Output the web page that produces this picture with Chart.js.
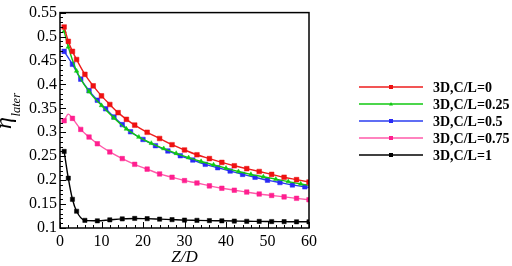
<!DOCTYPE html>
<html>
<head>
<meta charset="utf-8">
<script src="https://cdn.jsdelivr.net/npm/chart.js@4/dist/chart.umd.min.js"></script>
<style>
  body { margin: 0; background: #fff; }
  canvas { display: block; }
</style>
</head>
<body>
<canvas id="chart" width="512" height="266"></canvas>
<script>
// Z/D positions and eta values
const zRed = [1, 2, 3, 4, 6, 8, 10, 12, 14, 16, 18, 21, 24, 27, 30, 33, 36, 39, 42, 45, 48, 51, 54, 57, 60];
const etaRed = [0.520, 0.490, 0.469, 0.452, 0.421, 0.397, 0.376, 0.358, 0.341, 0.327, 0.315, 0.300, 0.287, 0.274, 0.263, 0.253, 0.245, 0.237, 0.230, 0.224, 0.218, 0.212, 0.206, 0.201, 0.196];

const zGreen = [1, 2, 4, 7, 10, 13, 16, 19, 22, 25, 28, 31, 34, 37, 40, 43, 46, 49, 52, 55, 58, 60];
const etaGreen = [0.511, 0.478, 0.428, 0.385, 0.356, 0.330, 0.307, 0.290, 0.277, 0.266, 0.256, 0.247, 0.239, 0.232, 0.225, 0.218, 0.212, 0.207, 0.202, 0.197, 0.192, 0.189];

const zBlue = [1, 3, 5, 7, 9, 11, 13, 15, 17, 20, 23, 26, 29, 32, 35, 38, 41, 44, 47, 50, 53, 56, 59, 60];
const etaBlue = [0.469, 0.442, 0.411, 0.387, 0.367, 0.349, 0.332, 0.316, 0.301, 0.285, 0.272, 0.261, 0.251, 0.242, 0.233, 0.226, 0.219, 0.212, 0.206, 0.200, 0.195, 0.190, 0.186, 0.185];

const zPink = [1, 2, 3, 5, 7, 9, 12, 15, 18, 21, 24, 27, 30, 33, 36, 39, 42, 45, 48, 51, 54, 57, 60];
const etaPink = [0.324, 0.338, 0.329, 0.306, 0.290, 0.276, 0.259, 0.245, 0.233, 0.223, 0.213, 0.206, 0.199, 0.194, 0.188, 0.183, 0.179, 0.175, 0.171, 0.168, 0.165, 0.162, 0.159];

const zBlack = [1, 2, 3, 4, 6, 9, 12, 15, 18, 21, 24, 27, 30, 33, 36, 39, 42, 45, 48, 51, 54, 57, 60];
const etaBlack = [0.260, 0.204, 0.160, 0.135, 0.116, 0.115, 0.117, 0.119, 0.120, 0.1195, 0.1185, 0.1175, 0.1165, 0.116, 0.1155, 0.115, 0.1145, 0.114, 0.1138, 0.1135, 0.1133, 0.113, 0.113];

// points drawn as line only, no marker
const pinkNoMark = [2];
const blueNoMark = [60];
const greenNoMark = [60];

const seriesLabels = ['3D,C/L=0', '3D,C/L=0.25', '3D,C/L=0.5', '3D,C/L=0.75', '3D,C/L=1'];

const serif = "'Liberation Serif', 'Times New Roman', serif";

function pts(zs, vals) {
    return zs.map((z, i) => ({ x: z, y: vals[i] }));
}

function makeSet(label, zs, vals, line, mark, style, r, noMark = []) {
    return {
        label,
        data: pts(zs, vals),
        borderColor: line,
        backgroundColor: mark,
        pointBorderColor: mark,
        pointBackgroundColor: mark,
        pointStyle: style,
        pointRadius: ctx => noMark.includes(ctx.raw && ctx.raw.x) ? 0 : r,
        pointBorderWidth: 0.5,
        borderWidth: 1.4,
        cubicInterpolationMode: 'monotone',
        fill: false
    };
}

const datasets = [
    makeSet(seriesLabels[0], zRed, etaRed, '#ee1c1c', '#ee1111', 'rect', 3.3),
    makeSet(seriesLabels[1], zGreen, etaGreen, '#11c811', '#11c811', 'triangle', 2.6, greenNoMark),
    makeSet(seriesLabels[2], zBlue, etaBlue, '#2a3cf0', '#2a2af5', 'rect', 3.2, blueNoMark),
    makeSet(seriesLabels[3], zPink, etaPink, '#ff5aaa', '#ff1f8f', 'rect', 3.2, pinkNoMark),
    makeSet(seriesLabels[4], zBlack, etaBlack, '#000000', '#000000', 'rect', 3.0)
];

const frame = {
    id: 'frame',
    afterDraw(chart) {
        const { ctx, chartArea: a, scales } = chart;
        ctx.save();
        ctx.strokeStyle = '#000';
        ctx.lineWidth = 1;
        // minor / major ticks pointing inward
        ctx.beginPath();
        for (let z = 0; z <= 60; z += 2) {
            const x = Math.round(scales.x.getPixelForValue(z)) + 0.5;
            const len = z % 10 === 0 ? 6 : 3;
            ctx.moveTo(x, a.bottom);
            ctx.lineTo(x, a.bottom - len);
        }
        for (let k = 10; k <= 55; k++) {
            const y = Math.round(scales.y.getPixelForValue(k / 100)) + 0.5;
            const len = k % 5 === 0 ? 6 : 3;
            ctx.moveTo(a.left, y);
            ctx.lineTo(a.left + len, y);
        }
        ctx.stroke();
        ctx.lineWidth = 1.5;
        ctx.strokeRect(a.left, a.top, a.right - a.left, a.bottom - a.top);

        // axis titles
        ctx.fillStyle = '#000';
        ctx.font = 'italic 17px ' + serif;
        ctx.textAlign = 'center';
        ctx.textBaseline = 'alphabetic';
        ctx.fillText('Z/D', (a.left + a.right) / 2, 262);

        ctx.save();
        ctx.translate(11, 129);
        ctx.rotate(-Math.PI / 2);
        ctx.textAlign = 'left';
        ctx.font = 'italic 24px ' + serif;
        ctx.fillText('\u03b7', 0, 0);
        const w = ctx.measureText('\u03b7').width;
        ctx.font = 'italic 12.5px ' + serif;
        ctx.fillText('later', w + 0.5, 9);
        ctx.restore();

        // legend
        const rows = [87, 104, 121, 138, 155];
        chart.data.datasets.forEach((ds, i) => {
            const y = rows[i];
            ctx.strokeStyle = ds.borderColor;
            ctx.lineWidth = 1.4;
            ctx.beginPath();
            ctx.moveTo(359, y);
            ctx.lineTo(423, y);
            ctx.stroke();
            ctx.fillStyle = ds.pointBackgroundColor;
            if (ds.pointStyle === 'triangle') {
                ctx.beginPath();
                ctx.moveTo(391, y - 2);
                ctx.lineTo(393, y + 1.5);
                ctx.lineTo(389, y + 1.5);
                ctx.closePath();
                ctx.fill();
            } else {
                ctx.fillRect(389, y - 2, 4, 4);
            }
            ctx.fillStyle = '#000';
            ctx.font = 'bold 14px ' + serif;
            ctx.textAlign = 'left';
            ctx.textBaseline = 'middle';
            ctx.fillText(ds.label, 433, y + 1);
        });
        ctx.restore();
    }
};

new Chart(document.getElementById('chart'), {
    type: 'line',
    data: { datasets },
    options: {
        responsive: false,
        animation: false,
        layout: { padding: { top: 7, right: 203, left: 0, bottom: 0 } },
        plugins: {
            legend: { display: false },
            tooltip: { enabled: false }
        },
        scales: {
            x: {
                type: 'linear',
                min: 0,
                max: 60,
                grid: { display: false, drawTicks: false },
                border: { display: false },
                ticks: {
                    stepSize: 10,
                    padding: 4,
                    color: '#000',
                    font: { family: serif, size: 16 }
                },
                afterFit: s => { s.height = 38; }
            },
            y: {
                min: 0.1,
                max: 0.55,
                grid: { display: false, drawTicks: false },
                border: { display: false },
                ticks: {
                    stepSize: 0.05,
                    padding: 3,
                    color: '#000',
                    font: { family: serif, size: 16 },
                    callback: v => String(Number(v.toFixed(2)))
                },
                afterFit: s => { s.width = 60; }
            }
        }
    },
    plugins: [frame]
});
</script>
</body>
</html>
